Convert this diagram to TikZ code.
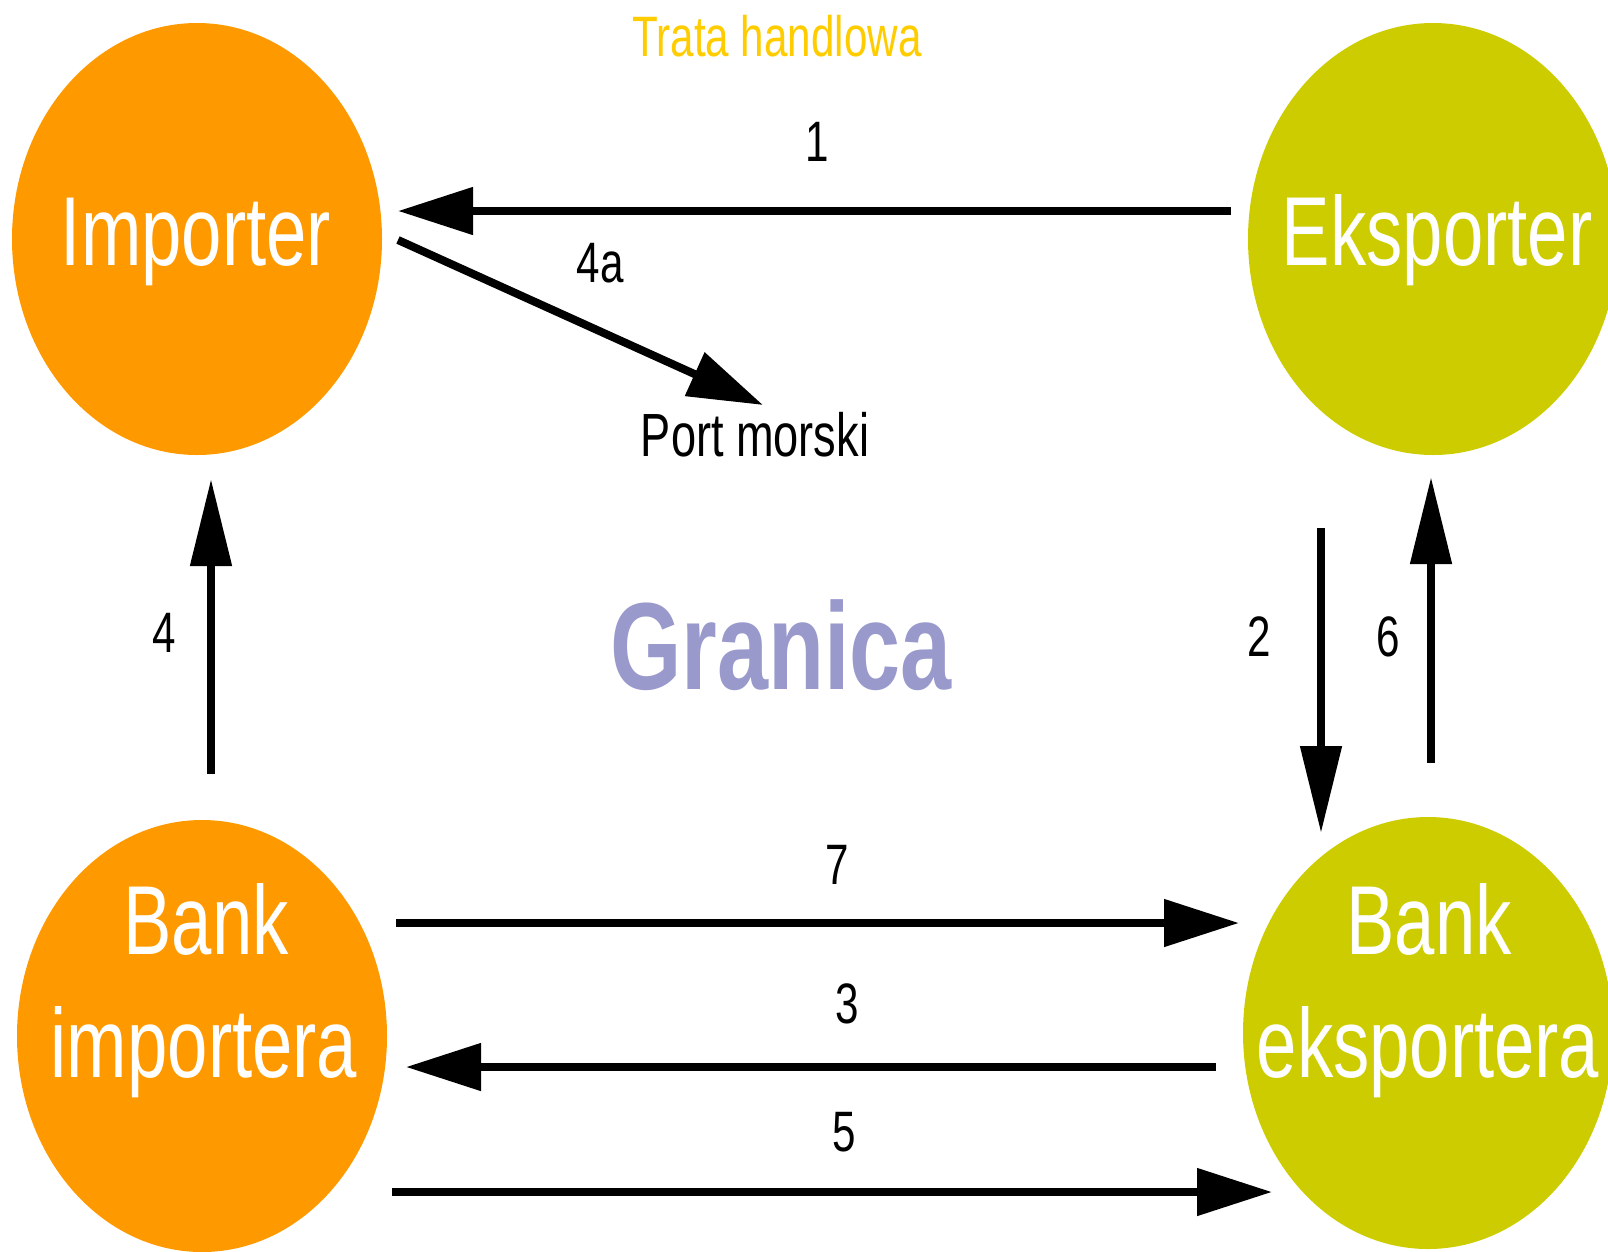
\documentclass[tikz,border=0pt]{standalone}
\usepackage{fontspec}
\setmainfont{Liberation Sans}
\newfontfamily\nar{Liberation Sans}[FakeStretch=0.74]
\usetikzlibrary{shapes.geometric,arrows.meta}
\definecolor{imporange}{RGB}{255,153,0}
\definecolor{eksgreen}{RGB}{204,204,0}
\definecolor{granicac}{RGB}{153,153,204}
\definecolor{tratac}{RGB}{255,204,0}
\tikzset{
  party/.style={ellipse, draw=none, inner sep=0pt, minimum width=370pt, minimum height=432pt},
  ptext/.style={anchor=base, text=white, font=\nar\fontsize{98}{98}\selectfont, inner sep=0pt},
  lbl/.style={anchor=base, text=black, font=\nar\fontsize{57}{57}\selectfont, inner sep=0pt},
  harrow/.style={line width=8pt, -{Triangle[length=75pt,width=46pt]}},
  varrow/.style={line width=8pt, -{Triangle[length=87pt,width=40pt]}},
}
\begin{document}
\begin{tikzpicture}[x=1pt,y=-1pt]
\useasboundingbox (0,0) rectangle (1608,1251);
\clip (0,0) rectangle (1608,1251);
% parties
\node[party, fill=imporange] (imp) at (197,239) {};
\node[party, fill=eksgreen] (eks) at (1433,239) {};
\node[party, fill=imporange] (bimp) at (202,1036) {};
\node[party, fill=eksgreen] (beks) at (1428,1033) {};
% party texts
\node[ptext] (timp) at (196,265) {Importer};
\node[ptext] (teks) at (1437,265) {Eksporter};
\node[ptext] (tbimp1) at (206,954) {Bank};
\node[ptext] (tbimp2) at (204,1077) {importera};
\node[ptext] (tbeks1) at (1429,954) {Bank};
\node[ptext] (tbeks2) at (1428,1077) {eksportera};
% titles
\node[anchor=base, text=tratac, font=\nar\fontsize{57}{57}\selectfont, inner sep=0pt] (trata) at (777,56) {Trata handlowa};
\node[anchor=base, text=granicac, font=\nar\bfseries\fontsize{124}{124}\selectfont, inner sep=0pt] (gran) at (781,689) {Granica};
\node[lbl, font=\nar\fontsize{61}{61}\selectfont] (port) at (755,456) {Port morski};
% arrow endpoints
\coordinate (a1s) at (1231,211); \coordinate (a1e) at (398,211);
\coordinate (a4as) at (398,240); \coordinate (a4ae) at (763,405);
\coordinate (a4s) at (211,774);  \coordinate (a4e) at (211,479);
\coordinate (a2s) at (1321,528); \coordinate (a2e) at (1321,833);
\coordinate (a6s) at (1431,763); \coordinate (a6e) at (1431,477);
\coordinate (a7s) at (396,923);  \coordinate (a7e) at (1239,923);
\coordinate (a3s) at (1216,1067);\coordinate (a3e) at (406,1067);
\coordinate (a5s) at (392,1192); \coordinate (a5e) at (1272,1192);
% arrows
\draw[harrow] (a1s) -- (a1e);
\draw[harrow] (a4as) -- (a4ae);
\draw[varrow] (a4s) -- (a4e);
\draw[varrow] (a2s) -- (a2e);
\draw[varrow] (a6s) -- (a6e);
\draw[harrow] (a7s) -- (a7e);
\draw[harrow] (a3s) -- (a3e);
\draw[harrow] (a5s) -- (a5e);
% labels
\node[lbl] (l1) at (817,161) {1};
\node[lbl] (l4a) at (600,282) {4a};
\node[lbl] (l4) at (164,652) {4};
\node[lbl] (l2) at (1259,656) {2};
\node[lbl] (l6) at (1388,656) {6};
\node[lbl] (l7) at (837,884) {7};
\node[lbl] (l3) at (847,1023) {3};
\node[lbl] (l5) at (844,1151) {5};
\end{tikzpicture}
\end{document}
